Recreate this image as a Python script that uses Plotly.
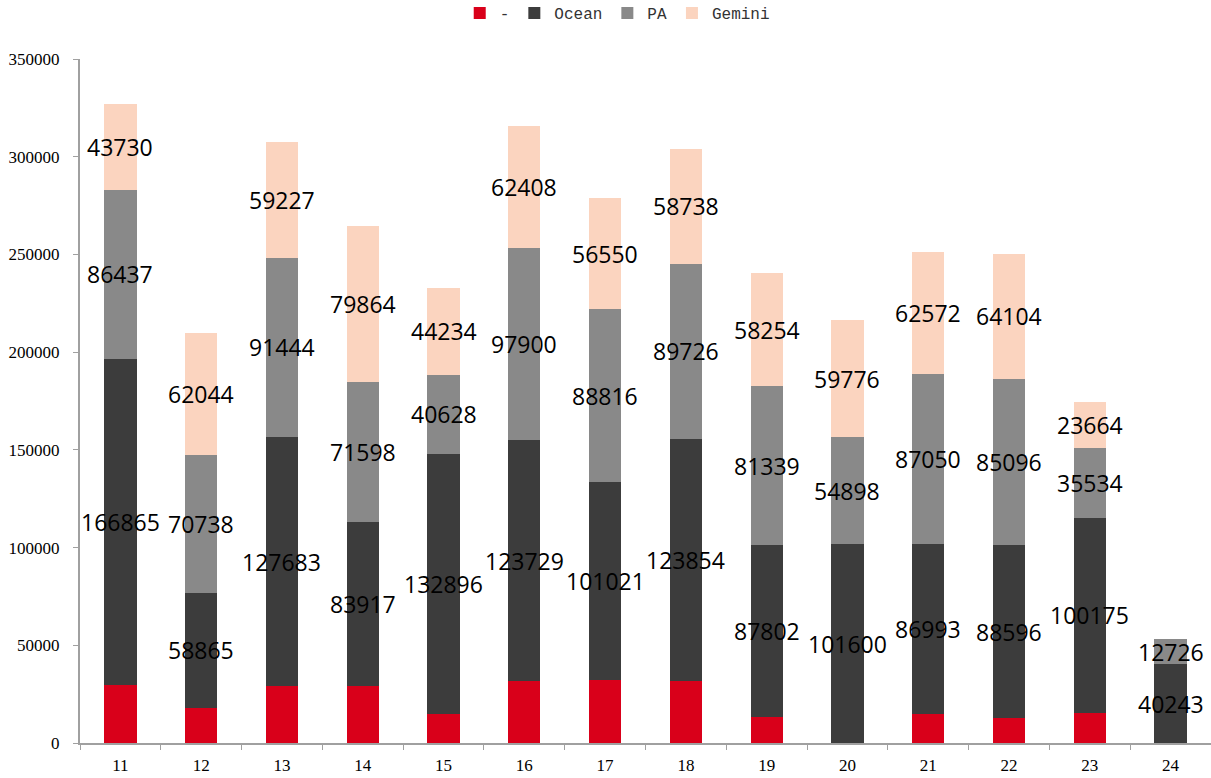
import plotly.graph_objects as go

categories = ['11', '12', '13', '14', '15', '16', '17', '18', '19', '20', '21', '22', '23', '24']
red_vals = [29700, 18000, 29000, 29000, 15000, 31500, 32300, 31700, 13300, 0, 14600, 12600, 15200, 0]
ocean_vals = [166865, 58865, 127683, 83917, 132896, 123729, 101021, 123854, 87802, 101600, 86993, 88596, 100175, 40243]
pa_vals = [86437, 70738, 91444, 71598, 40628, 97900, 88816, 89726, 81339, 54898, 87050, 85096, 35534, 12726]
gemini_vals = [43730, 62044, 59227, 79864, 44234, 62408, 56550, 58738, 58254, 59776, 62572, 64104, 23664, 0]

series = [
    ('-', red_vals, '#D9001A', False),
    ('Ocean', ocean_vals, '#3C3C3C', True),
    ('PA', pa_vals, '#898989', True),
    ('Gemini', gemini_vals, '#FBD4BF', True),
]

fig = go.Figure()
base = [0] * len(categories)
for name, vals, color, labeled in series:
    fig.add_trace(go.Bar(
        x=categories, y=vals, name=name,
        marker=dict(color=color, line=dict(width=0)),
    ))
    if labeled:
        for i, v in enumerate(vals):
            if v > 0:
                # category axis: index i is the position of categories[i]
                fig.add_annotation(
                    x=i, y=base[i] + v / 2, text=str(v),
                    showarrow=False, xanchor='center', yanchor='middle',
                    font=dict(family='Open Sans', size=23, color='#000000'),
                )
    base = [b + v for b, v in zip(base, vals)]

fig.update_layout(
    barmode='stack',
    bargap=0.6,
    width=1211, height=778,
    margin=dict(l=80, r=0, t=59, b=35, autoexpand=False),
    plot_bgcolor='white', paper_bgcolor='white',
    legend=dict(
        orientation='h', x=0.475, xanchor='center', y=1.067, yanchor='middle',
        font=dict(family='Liberation Mono', size=16, color='#333333'),
        traceorder='normal', itemwidth=30, tracegroupgap=0,
    ),
    showlegend=True,
)
fig.update_xaxes(
    type='category', categoryorder='array', categoryarray=categories,
    range=[-0.5, len(categories) - 0.5], autorange=False,
    showgrid=False, showline=True, linecolor='#A0A0A0', linewidth=2,
    ticks='outside', ticklen=5, tickcolor='#A0A0A0', tickson='boundaries',
    ticklabelstandoff=6,
    tickfont=dict(family='Liberation Serif', size=17, color='#000000'),
)
fig.update_yaxes(
    range=[0, 350000], autorange=False, dtick=50000, showgrid=False, showline=True,
    linecolor='#A0A0A0', linewidth=2, ticks='outside', ticklen=5, tickcolor='#A0A0A0',
    ticklabelstandoff=10,
    tickfont=dict(family='Liberation Serif', size=17, color='#000000'),
    tickformat='d', zeroline=False,
)

fig.write_html('out.html')
